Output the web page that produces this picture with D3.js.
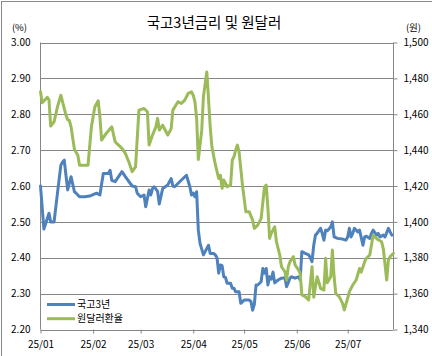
<!DOCTYPE html>
<html><head><meta charset="utf-8">
<script src="https://cdn.jsdelivr.net/npm/d3@7"></script>
<style>html,body{margin:0;padding:0;background:#fff;overflow:hidden}</style>
</head><body>
<svg id="c" width="432" height="356"></svg>
<script>
const chartTitle = "국고3년금리 및 원달러";
const seriesNames = ["국고3년", "원달러환율"];
const seriesColors = ["#4F81BD", "#9BBB59"];
const leftUnit = "(%)";
const rightUnit = "(원)";
const year = 2025;
const leftTicks = [2.20, 2.30, 2.40, 2.50, 2.60, 2.70, 2.80, 2.90, 3.00];
const rightTicks = [1340, 1360, 1380, 1400, 1420, 1440, 1460, 1480, 1500];
const monthTickDates = ["01-02", "02-02", "03-02", "04-02", "05-02", "06-02", "07-02"];
const monthLabels = ["25/01", "25/02", "25/03", "25/04", "25/05", "25/06", "25/07"];
const xDomain = ["01-02", "07-29"];

// 국고3년 (%)
const rateSeries = [
["01-02",2.60],["01-04",2.48],["01-07",2.524],["01-08",2.50],["01-10",2.50],["01-12",2.58],
["01-14",2.658],["01-15",2.667],["01-16",2.672],["01-17",2.63],["01-18",2.589],["01-20",2.626],
["01-22",2.584],["01-23",2.58],["01-25",2.57],["01-28",2.57],["01-31",2.572],["02-04",2.58],
["02-06",2.575],["02-08",2.635],["02-11",2.635],["02-12",2.644],["02-13",2.616],["02-15",2.612],
["02-19",2.64],["02-21",2.626],["02-25",2.60],["02-27",2.598],["02-28",2.58],["03-02",2.57],
["03-04",2.575],["03-05",2.542],["03-07",2.589],["03-08",2.575],["03-09",2.593],["03-10",2.598],
["03-12",2.585],["03-13",2.55],["03-15",2.593],["03-18",2.603],["03-20",2.621],["03-21",2.60],
["03-22",2.598],["03-24",2.607],["03-27",2.621],["03-29",2.63],["03-31",2.598],["04-01",2.575],
["04-02",2.58],["04-03",2.57],["04-04",2.584],["04-05",2.477],["04-06",2.44],["04-08",2.408],
["04-10",2.426],["04-11",2.435],["04-12",2.412],["04-14",2.412],["04-15",2.408],["04-16",2.40],
["04-17",2.357],["04-18",2.38],["04-19",2.378],["04-20",2.347],["04-21",2.345],["04-22",2.329],
["04-24",2.329],["04-25",2.315],["04-26",2.315],["04-27",2.305],["04-29",2.305],["04-30",2.273],
["05-02",2.282],["05-05",2.282],["05-06",2.278],["05-07",2.254],["05-08",2.27],["05-09",2.324],
["05-10",2.324],["05-12",2.333],["05-13",2.37],["05-14",2.357],["05-15",2.37],["05-16",2.324],
["05-17",2.347],["05-18",2.34],["05-19",2.36],["05-20",2.33],["05-22",2.338],["05-24",2.343],
["05-26",2.344],["05-27",2.319],["05-29",2.343],["05-30",2.347],["06-01",2.343],["06-03",2.347],
["06-04",2.338],["06-05",2.417],["06-07",2.412],["06-09",2.408],["06-10",2.40],["06-11",2.389],
["06-12",2.435],["06-13",2.463],["06-14",2.468],["06-16",2.482],["06-17",2.468],["06-18",2.449],
["06-19",2.477],["06-20",2.475],["06-22",2.486],["06-23",2.50],["06-24",2.458],["06-26",2.454],
["06-29",2.452],["07-01",2.449],["07-02",2.458],["07-03",2.482],["07-04",2.458],["07-05",2.468],
["07-06",2.482],["07-08",2.472],["07-09",2.477],["07-11",2.435],["07-12",2.458],["07-13",2.46],
["07-15",2.454],["07-16",2.468],["07-17",2.477],["07-19",2.463],["07-20",2.468],["07-21",2.458],
["07-23",2.463],["07-24",2.458],["07-26",2.482],["07-27",2.472],["07-28",2.463]
];

// 원달러환율 (원)
const fxSeries = [
["01-02",1472.5],["01-03",1466.4],["01-06",1469.4],["01-07",1468],["01-08",1453.4],["01-10",1455.8],
["01-12",1464.1],["01-14",1470.6],["01-16",1463.2],["01-17",1459.5],["01-18",1457],["01-19",1456.6],
["01-20",1453],["01-22",1440.4],["01-24",1437.2],["01-25",1431.6],["01-30",1431.6],["02-01",1453],
["02-03",1464],["02-05",1467.5],["02-06",1458.6],["02-07",1445.6],["02-09",1448.4],["02-13",1453],
["02-15",1444.6],["02-17",1442.8],["02-19",1441],["02-21",1438.2],["02-23",1433.5],["02-25",1428],
["02-27",1430.7],["03-01",1462.3],["03-04",1463.2],["03-06",1461.4],["03-07",1442.8],["03-09",1448.4],
["03-11",1453],["03-12",1457.7],["03-13",1451.2],["03-15",1453.9],["03-18",1448.4],["03-20",1452],
["03-21",1462.3],["03-24",1467],["03-26",1466],["03-28",1467.9],["03-30",1471.6],["04-01",1472.5],
["04-02",1470.6],["04-03",1466.9],["04-04",1457.7],["04-05",1434.8],["04-07",1451],["04-08",1469.7],
["04-10",1483.6],["04-11",1468.6],["04-12",1453],["04-13",1441.8],["04-15",1432],["04-17",1424.2],
["04-18",1426],["04-19",1418.7],["04-20",1423.3],["04-21",1421.5],["04-22",1419.6],["04-24",1420.5],
["04-25",1434.4],["04-26",1436.3],["04-27",1440],["04-28",1442.8],["04-29",1439],["05-01",1420.5],
["05-03",1405.6],["05-05",1405.6],["05-07",1401],["05-08",1396.4],["05-10",1398.2],["05-11",1400],
["05-12",1402],["05-14",1419.6],["05-15",1420.5],["05-16",1407.5],["05-17",1390.8],["05-18",1393.6],
["05-20",1397.3],["05-21",1389],["05-23",1381.5],["05-24",1375],["05-26",1372.2],["05-27",1367.6],
["05-28",1375],["05-29",1377.8],["05-31",1380.6],["06-01",1376],["06-03",1373.2],["06-04",1371.3],
["06-05",1359.3],["06-07",1358.3],["06-09",1356.5],["06-11",1375],["06-12",1358],["06-14",1369.4],
["06-15",1366.5],["06-16",1362.9],["06-18",1362],["06-19",1379.7],["06-20",1366],["06-22",1369.4],
["06-23",1384.3],["06-24",1369.4],["06-25",1360],["06-27",1358.3],["06-29",1354.6],["06-30",1350.9],
["07-02",1357.4],["07-03",1361.1],["07-05",1364.8],["07-07",1367.6],["07-09",1374],["07-10",1372],
["07-12",1377.8],["07-13",1379.7],["07-15",1381.5],["07-16",1387],["07-17",1392.6],["07-18",1391.7],
["07-20",1390],["07-22",1388.9],["07-23",1385],["07-25",1367.6],["07-26",1378.7],["07-27",1380.6],
["07-29",1382.4]
];

const W = 432, H = 356;
const m = {l: 40.5, r: 393.5, t: 42.5, b: 329.5};
const font = "'Noto Sans CJK KR', 'Noto Sans', sans-serif";
const parse = d3.timeParse("%Y-%m-%d");
const toDate = s => parse(year + "-" + s);

const x = d3.scaleTime().domain(xDomain.map(toDate)).range([m.l, m.r]);
const yL = d3.scaleLinear().domain([leftTicks[0], leftTicks[leftTicks.length-1]]).range([m.b, m.t]);
const yR = d3.scaleLinear().domain([rightTicks[0], rightTicks[rightTicks.length-1]]).range([m.b, m.t]);

const svg = d3.select("#c").style("font-family", font);
svg.append("rect").attr("width", W).attr("height", H).attr("fill", "#fff");
// outer chart frame (partly cropped in the picture)
svg.append("rect").attr("x", 1.5).attr("y", 1.5).attr("width", W + 20).attr("height", H + 20)
  .attr("fill", "none").attr("stroke", "#8a8a8a").attr("stroke-width", 1);

// title
svg.append("text").attr("x", 214).attr("y", 28).attr("text-anchor", "middle")
  .attr("font-size", 14.5).attr("fill", "#000").text(chartTitle);

// gridlines
svg.append("g").selectAll("line").data(leftTicks).join("line")
  .attr("x1", m.l).attr("x2", m.r)
  .attr("y1", d => Math.round(yL(d)) + 0.5).attr("y2", d => Math.round(yL(d)) + 0.5)
  .attr("stroke", "#868686").attr("stroke-width", 1);

// left axis
const gL = svg.append("g").attr("transform", `translate(${m.l},0)`)
  .call(d3.axisLeft(yL).tickValues(leftTicks).tickSize(0).tickPadding(10).tickFormat(d3.format(".2f")));
gL.select(".domain").remove();
gL.selectAll("text").attr("font-size", 10).attr("fill", "#000").attr("font-family", font);

// right axis
const gR = svg.append("g").attr("transform", `translate(${m.r},0)`)
  .call(d3.axisRight(yR).tickValues(rightTicks).tickSize(4).tickPadding(6).tickFormat(d3.format(",")));
gR.select(".domain").remove();
gR.selectAll("line").attr("stroke", "#868686");
gR.selectAll("text").attr("font-size", 10).attr("fill", "#000").attr("font-family", font);

// bottom axis
const gB = svg.append("g").attr("transform", `translate(0,${m.b})`)
  .call(d3.axisBottom(x).tickValues(monthTickDates.map(toDate)).tickSize(4).tickPadding(7)
    .tickFormat((d, i) => monthLabels[i]));
gB.select(".domain").remove();
gB.selectAll("line").attr("stroke", "#868686");
gB.selectAll("text").attr("font-size", 10).attr("fill", "#000").attr("font-family", font);

// axis lines
svg.append("line").attr("x1", m.l).attr("x2", m.l).attr("y1", m.t).attr("y2", m.b).attr("stroke", "#868686");
svg.append("line").attr("x1", m.r).attr("x2", m.r).attr("y1", m.t).attr("y2", m.b).attr("stroke", "#868686");

// unit labels
svg.append("text").attr("x", 19.5).attr("y", 31).attr("text-anchor", "middle")
  .attr("font-size", 9.5).text(leftUnit);
svg.append("text").attr("x", 413.5).attr("y", 31).attr("text-anchor", "middle")
  .attr("font-size", 9.5).text(rightUnit);

// lines
const lineL = d3.line().x(d => x(toDate(d[0]))).y(d => yL(d[1]));
const lineR = d3.line().x(d => x(toDate(d[0]))).y(d => yR(d[1]));
svg.append("path").datum(rateSeries).attr("d", lineL).attr("fill", "none")
  .attr("stroke", seriesColors[0]).attr("stroke-width", 3).attr("stroke-linejoin", "round").attr("stroke-linecap", "round");
svg.append("path").datum(fxSeries).attr("d", lineR).attr("fill", "none")
  .attr("stroke", seriesColors[1]).attr("stroke-width", 3).attr("stroke-linejoin", "round").attr("stroke-linecap", "round");

// legend
const lg = svg.append("g");
seriesNames.forEach((n, i) => {
  const yy = 304.5 + i * 14.2;
  lg.append("line").attr("x1", 47).attr("x2", 75).attr("y1", yy).attr("y2", yy)
    .attr("stroke", seriesColors[i]).attr("stroke-width", 3);
  lg.append("text").attr("x", 77).attr("y", yy + 3.6).attr("font-size", 10).attr("fill", "#000").text(n);
});
</script>
</body></html>
